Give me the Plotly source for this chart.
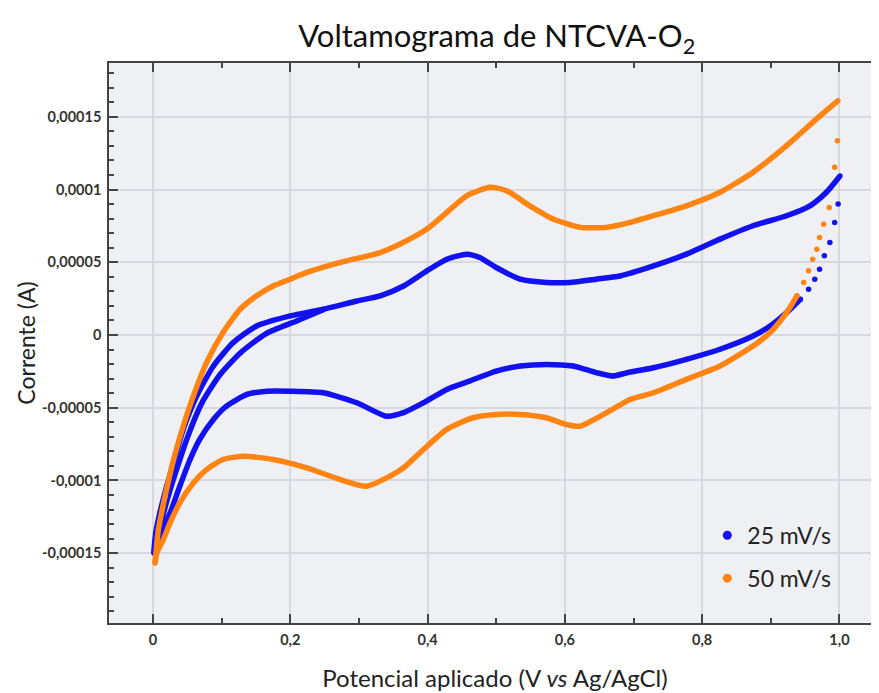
import plotly.graph_objects as go

# =========================
# DATOS
# =========================
# 50 mV/s - barrido de ida (0 -> 1,0 V)
x50_ida = [0.003, 0.0078, 0.0175, 0.030, 0.044, 0.0587, 0.078, 0.102, 0.127, 0.151,
           0.175, 0.200, 0.224, 0.273, 0.331, 0.360, 0.399, 0.428, 0.457, 0.491,
           0.515, 0.549, 0.583, 0.622, 0.661, 0.695, 0.729, 0.777, 0.826, 0.874,
           0.923, 0.972, 0.998]
y50_ida = [-0.000157, -0.000134, -0.000111, -0.0000856, -0.0000627, -0.000042, -0.000019,
           0.0000017, 0.0000177, 0.0000269, 0.0000337, 0.0000384, 0.000043, 0.0000499,
           0.0000567, 0.0000625, 0.0000728, 0.0000843, 0.0000957, 0.0001015, 0.0000992,
           0.0000888, 0.0000797, 0.000074, 0.000074, 0.0000774, 0.000082, 0.0000888,
           0.0000981, 0.0001118, 0.0001302, 0.0001508, 0.0001612]

# 50 mV/s - puntos sueltos cerca de 1,0 V (vuelta)
x50_salto = [0.997, 0.993, 0.985, 0.977, 0.971, 0.967, 0.961, 0.955, 0.948, 0.938]
y50_salto = [0.0001336, 0.0001153, 0.0000877, 0.0000762, 0.0000671, 0.000059,
             0.0000521, 0.0000441, 0.0000361, 0.0000269]

# 50 mV/s - barrido de vuelta (1,0 -> 0 V)
x50_vuelta = [0.938, 0.923, 0.899, 0.874, 0.826, 0.777, 0.729, 0.695, 0.661, 0.622,
              0.602, 0.573, 0.535, 0.500, 0.466, 0.428, 0.394, 0.365, 0.345, 0.311,
              0.273, 0.224, 0.175, 0.132, 0.102, 0.078, 0.0587, 0.039, 0.0248, 0.015,
              0.0055, 0.003]
y50_vuelta = [0.0000269, 0.0000154, 0.0000017, -0.0000076, -0.0000213, -0.0000305,
              -0.0000397, -0.0000443, -0.0000534, -0.0000627, -0.0000615, -0.0000569,
              -0.0000546, -0.0000546, -0.0000569, -0.0000649, -0.0000787, -0.0000913,
              -0.0000971, -0.000104, -0.0000994, -0.0000913, -0.0000856, -0.0000833,
              -0.0000856, -0.0000925, -0.0001017, -0.0001154, -0.0001292, -0.0001407,
              -0.0001499, -0.0001567]

# 25 mV/s - barrido de ida
x25_ida = [0.001, 0.004, 0.010, 0.020, 0.030, 0.044, 0.0636, 0.088, 0.117, 0.151,
           0.200, 0.248, 0.297, 0.331, 0.365, 0.399, 0.428, 0.457, 0.476, 0.500,
           0.535, 0.573, 0.607, 0.646, 0.680, 0.729, 0.777, 0.826, 0.874, 0.923,
           0.957, 0.981, 1.001]
y25_ida = [-0.00015, -0.000136, -0.0001223, -0.000104, -0.0000879, -0.0000649, -0.000042,
           -0.0000213, -0.0000052, 0.0000062, 0.0000131, 0.0000177, 0.0000234, 0.0000269,
           0.0000337, 0.0000441, 0.0000521, 0.0000556, 0.0000533, 0.0000464, 0.0000384,
           0.0000361, 0.0000361, 0.0000384, 0.0000406, 0.0000475, 0.0000556, 0.0000659,
           0.0000751, 0.000082, 0.0000888, 0.0000981, 0.0001095]

# 25 mV/s - segunda fila de la banda de ida (ciclo repetido)
x25_banda = [0.006, 0.014, 0.024, 0.036, 0.052, 0.072, 0.098, 0.128, 0.165, 0.210,
             0.248]
y25_banda = [-0.000143, -0.000125, -0.000108, -0.00009, -0.000068, -0.000046, -0.000027,
             -0.000012, 0.000001, 0.0000098, 0.0000174]

# 25 mV/s - puntos sueltos cerca de 1,0 V (vuelta)
x25_salto = [0.998, 0.993, 0.986, 0.978, 0.971, 0.964, 0.955, 0.943]
y25_salto = [0.00009, 0.0000774, 0.0000636, 0.0000544, 0.0000452, 0.0000384,
             0.0000315, 0.0000246]

# 25 mV/s - barrido de vuelta
x25_vuelta = [0.943, 0.923, 0.899, 0.874, 0.826, 0.777, 0.729, 0.690, 0.670, 0.646,
              0.612, 0.573, 0.535, 0.500, 0.461, 0.428, 0.394, 0.365, 0.340, 0.297,
              0.248, 0.200, 0.166, 0.137, 0.107, 0.088, 0.068, 0.054, 0.039, 0.025,
              0.010, 0.003]
y25_vuelta = [0.0000246, 0.0000154, 0.0000062, -0.0000007, -0.0000098, -0.0000167,
              -0.0000225, -0.000026, -0.0000282, -0.0000259, -0.0000213, -0.0000202,
              -0.0000213, -0.0000248, -0.0000317, -0.0000374, -0.0000466, -0.0000534,
              -0.0000558, -0.0000466, -0.0000397, -0.0000386, -0.0000386, -0.0000408,
              -0.0000489, -0.0000581, -0.0000718, -0.0000856, -0.000104, -0.0001223,
              -0.0001384, -0.00015]

X_TICKS = [0, 0.2, 0.4, 0.6, 0.8, 1.0]
X_LABELS = ["0", "0,2", "0,4", "0,6", "0,8", "1,0"]
Y_TICKS = [-0.00015, -0.0001, -0.00005, 0, 0.00005, 0.0001, 0.00015]
Y_LABELS = ["-0,00015", "-0,0001", "-0,00005", "0", "0,00005", "0,0001", "0,00015"]

AZUL = "#1212f0"
NARANJA = "#ff8412"
FUENTE = "Lato"

# =========================
# FIGURA
# =========================
fig = go.Figure()

series = [
    ("25 mV/s", AZUL, [(x25_ida, y25_ida), (x25_banda, y25_banda), (x25_vuelta, y25_vuelta)],
     (x25_salto, y25_salto)),
    ("50 mV/s", NARANJA, [(x50_ida, y50_ida), (x50_vuelta, y50_vuelta)],
     (x50_salto, y50_salto)),
]

for nombre, color, tramos, salto in series:
    for xs, ys in tramos:
        fig.add_trace(go.Scatter(
            x=xs, y=ys, mode="lines+markers",
            line=dict(color=color, width=5.5, shape="spline", smoothing=0.6),
            marker=dict(color=color, size=5),
            legendgroup=nombre, showlegend=False, hoverinfo="skip"
        ))
    fig.add_trace(go.Scatter(
        x=salto[0], y=salto[1], mode="markers",
        marker=dict(color=color, size=5.5),
        legendgroup=nombre, showlegend=False, hoverinfo="skip"
    ))
    # entrada de leyenda
    fig.add_trace(go.Scatter(
        x=[None], y=[None], mode="markers", name=nombre,
        marker=dict(color=color, size=9),
        legendgroup=nombre
    ))

eje = dict(
    showline=True, linecolor="#444", linewidth=1.5, mirror="allticks",
    ticks="inside", ticklen=9, tickcolor="#444", tickwidth=1.5,
    showgrid=True, gridcolor="#d8d9de", gridwidth=1.5, zeroline=False,
    automargin=False, ticklabelstandoff=3,
    tickfont=dict(family=FUENTE, size=14.5, color="#333", weight="bold"),
)

# la página deja ~8 px de margen en el body: se compensa en los márgenes
fig.update_xaxes(
    **eje, range=[-0.0641, 1.0605],
    tickvals=X_TICKS, ticktext=X_LABELS,
    minor=dict(dtick=0.1, ticks="inside", ticklen=5, tickcolor="#444", showgrid=False),
    title=dict(text="Potencial aplicado (V <i>vs</i> Ag/AgCl)",
               font=dict(family=FUENTE, size=24, color="#222"), standoff=23),
)
fig.update_yaxes(
    **eje, range=[-0.000198, 0.000187],
    tickvals=Y_TICKS, ticktext=Y_LABELS,
    minor=dict(dtick=0.00001, tick0=0, ticks="inside", ticklen=5, tickcolor="#444",
               showgrid=False),
    title=dict(text="Corrente (A)", font=dict(family=FUENTE, size=23, color="#222"),
               standoff=0),
)

fig.update_layout(
    width=879, height=693,
    margin=dict(l=101, r=6, t=55, b=78, autoexpand=False),
    paper_bgcolor="white",
    plot_bgcolor="#eff0f4",
    title=dict(text="Voltamograma de NTCVA-O<sub>2</sub>", x=0.556, xanchor="center",
               y=0.959, yanchor="middle",
               font=dict(family=FUENTE, size=31, color="#111")),
    legend=dict(x=0.775, y=0.195, xanchor="left", yanchor="top",
                bgcolor="rgba(0,0,0,0)", tracegroupgap=10,
                font=dict(family=FUENTE, size=23, color="#222")),
    showlegend=True,
)

fig.write_html("out.html")
